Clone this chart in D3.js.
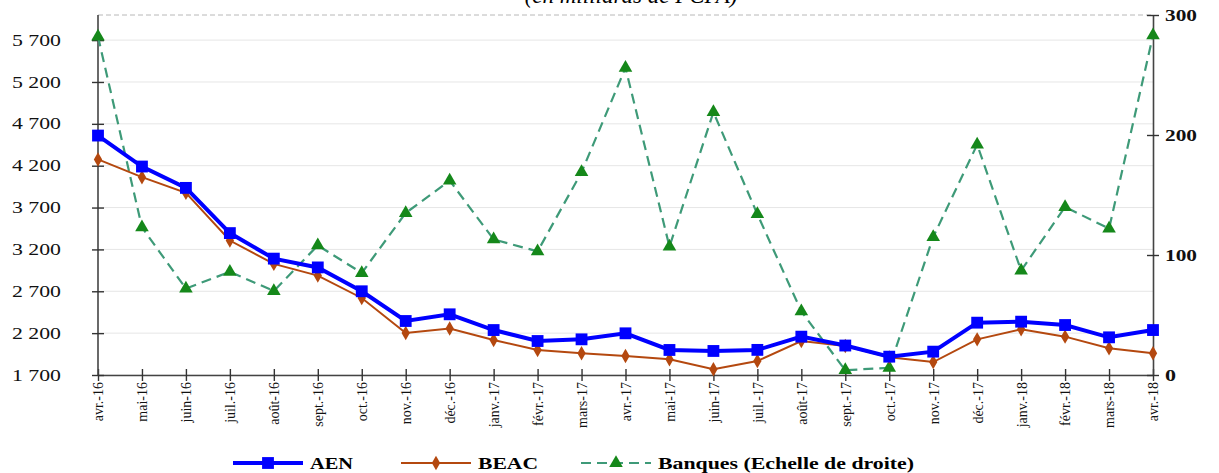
<!DOCTYPE html>
<html>
<head>
<meta charset="utf-8">
<script src="https://cdn.jsdelivr.net/npm/d3@7"></script>
<style>
  body { margin: 0; background: #fff; }
  svg { display: block; }
  .tick text { font-family: "Liberation Serif", serif; }
</style>
</head>
<body>
<div id="container"></div>
<script>
// DATA
const months = ["avr.-16", "mai-16", "juin-16", "juil.-16", "août-16", "sept.-16", "oct.-16", "nov.-16", "déc.-16",
  "janv.-17", "févr.-17", "mars-17", "avr.-17", "mai-17", "juin-17", "juil.-17", "août-17", "sept.-17", "oct.-17",
  "nov.-17", "déc.-17", "janv.-18", "févr.-18", "mars-18", "avr.-18"];
const aen = [4560, 4190, 3935, 3395, 3090, 2985, 2700, 2345, 2425, 2237, 2106, 2126, 2198, 1999, 1987, 2000, 2158, 2052, 1919, 1979, 2325, 2337, 2297, 2150, 2237];
const beac = [4275, 4063, 3875, 3306, 3027, 2887, 2620, 2202, 2255, 2118, 1999, 1959, 1927, 1887, 1768, 1867, 2106, 2046, 1911, 1855, 2126, 2246, 2158, 2019, 1959];
const banques = [282, 123, 72, 86, 70, 108, 85, 135, 162, 113, 103, 169, 256, 107, 219, 134, 53, 4, 6, 115, 192, 87, 140, 122, 283];
const leftTicks = [1700, 2200, 2700, 3200, 3700, 4200, 4700, 5200, 5700];
const rightTicks = [0, 100, 200, 300];

const width = 1219, height = 473;
const margin = { top: 15, bottom: 98, left: 98, right: 66 };

const svg = d3.select("#container").append("svg")
  .attr("width", width)
  .attr("height", height);

// SCALES
const xScale = d3.scalePoint()
  .domain(months)
  .range([margin.left, width - margin.right]);

const yLeft = d3.scaleLinear()
  .domain([1700, 6000])
  .range([height - margin.bottom, margin.top]);

const yRight = d3.scaleLinear()
  .domain([0, 300])
  .range([height - margin.bottom, margin.top]);

const fr = d3.formatLocale({ decimal: ",", thousands: " ", grouping: [3], currency: ["", " €"] });
const fmt = fr.format(",d");

// title (cut at the top like the original)
svg.append("text")
  .attr("x", 631)
  .attr("y", 3)
  .attr("text-anchor", "middle")
  .style("font-family", "Liberation Serif, serif")
  .style("font-style", "italic")
  .style("font-size", "23px")
  .text("(en milliards de FCFA)");

// gridlines
svg.append("g")
  .selectAll("line")
  .data(leftTicks)
  .join("line")
  .attr("x1", margin.left)
  .attr("x2", width - margin.right)
  .attr("y1", d => yLeft(d))
  .attr("y2", d => yLeft(d))
  .attr("stroke", "#e6e6e6")
  .attr("stroke-width", 1);

svg.append("line")
  .attr("x1", margin.left)
  .attr("x2", width - margin.right)
  .attr("y1", margin.top)
  .attr("y2", margin.top)
  .attr("stroke", "#b8b8b8")
  .attr("stroke-dasharray", "5,3");

// AXES
const xAxis = d3.axisBottom(xScale).tickSizeInner(6).tickSizeOuter(0).tickPadding(6);
const gx = svg.append("g")
  .attr("transform", `translate(0,${height - margin.bottom})`)
  .call(xAxis);
gx.selectAll(".tick line").attr("y1", -6);
gx.selectAll(".tick text")
  .attr("transform", "rotate(-90)")
  .attr("text-anchor", "end")
  .attr("x", -7)
  .attr("y", 0)
  .attr("dy", "0.35em")
  .style("font-size", "14px");

const yAxisL = d3.axisLeft(yLeft).tickValues(leftTicks).tickFormat(fmt).tickSizeInner(6).tickSizeOuter(0);
const gl = svg.append("g")
  .attr("transform", `translate(${margin.left},0)`)
  .call(yAxisL);
gl.selectAll(".tick line").attr("x2", 6).attr("x1", -6);
gl.selectAll(".tick text")
  .attr("x", -86)
  .attr("text-anchor", "start")
  .attr("textLength", 49)
  .attr("lengthAdjust", "spacingAndGlyphs")
  .style("font-size", "16px");
gl.select(".domain").attr("d", `M0,${yLeft(1700)}V${margin.top}`);

const yAxisR = d3.axisRight(yRight).tickValues(rightTicks).tickSizeInner(6).tickSizeOuter(0);
const gr = svg.append("g")
  .attr("transform", `translate(${width - margin.right},0)`)
  .call(yAxisR);
gr.selectAll(".tick line").attr("x1", -6);
gr.selectAll(".tick text")
  .attr("x", 12)
  .attr("textLength", d => d === 0 ? 11 : 32)
  .attr("lengthAdjust", "spacingAndGlyphs")
  .style("font-size", "16px")
  .style("font-weight", "bold");

[gx, gl, gr].forEach(g => {
  g.selectAll(".domain").attr("stroke", "#444").attr("stroke-width", 1.6);
  g.selectAll(".tick line").attr("stroke", "#333").attr("stroke-width", 1.4);
  g.selectAll(".tick text").attr("fill", "#111");
});

// LINES
const lineL = d3.line().x((d, i) => xScale(months[i])).y(d => yLeft(d));
const lineR = d3.line().x((d, i) => xScale(months[i])).y(d => yRight(d));

const greenLine = "#3e9a78", greenMark = "#15881a", blue = "#0000ff", brown = "#b4480f";

svg.append("path")
  .datum(banques)
  .attr("d", lineR)
  .attr("fill", "none")
  .attr("stroke", greenLine)
  .attr("stroke-width", 2.2)
  .attr("stroke-dasharray", "10,6");

svg.append("path")
  .datum(beac)
  .attr("d", lineL)
  .attr("fill", "none")
  .attr("stroke", brown)
  .attr("stroke-width", 2);

svg.append("path")
  .datum(aen)
  .attr("d", lineL)
  .attr("fill", "none")
  .attr("stroke", blue)
  .attr("stroke-width", 4);

const sq = d3.symbol().type(d3.symbolSquare).size(140);
const dia = d3.symbol().type(d3.symbolDiamond).size(60);
const tri = d3.symbol().type(d3.symbolTriangle).size(80);

svg.append("g").selectAll("path")
  .data(banques)
  .join("path")
  .attr("d", tri)
  .attr("transform", (d, i) => `translate(${xScale(months[i])},${yRight(d)})`)
  .attr("fill", greenMark);

svg.append("g").selectAll("path")
  .data(beac)
  .join("path")
  .attr("d", dia)
  .attr("transform", (d, i) => `translate(${xScale(months[i])},${yLeft(d)})`)
  .attr("fill", brown);

svg.append("g").selectAll("path")
  .data(aen)
  .join("path")
  .attr("d", sq)
  .attr("transform", (d, i) => `translate(${xScale(months[i])},${yLeft(d)})`)
  .attr("fill", blue);

// LEGEND
const legend = [
  { name: "AEN", x: 233, tw: 43, color: blue, w: 4, dash: null, sym: sq },
  { name: "BEAC", x: 401, tw: 60, color: brown, w: 2, dash: null, sym: dia },
  { name: "Banques (Echelle de droite)", x: 581, tw: 256, color: greenLine, w: 2.2, dash: "10,6", sym: tri, mark: greenMark }
];
const ly = 463;
const lg = svg.append("g").selectAll("g").data(legend).join("g");
lg.append("line")
  .attr("x1", d => d.x).attr("x2", d => d.x + 70)
  .attr("y1", ly).attr("y2", ly)
  .attr("stroke", d => d.color)
  .attr("stroke-width", d => d.w)
  .attr("stroke-dasharray", d => d.dash);
lg.append("path")
  .attr("d", d => d.sym())
  .attr("transform", d => `translate(${d.x + 35},${ly})`)
  .attr("fill", d => d.mark || d.color);
lg.append("text")
  .attr("x", d => d.x + 77)
  .attr("y", ly)
  .attr("dy", "0.35em")
  .attr("textLength", d => d.tw)
  .attr("lengthAdjust", "spacingAndGlyphs")
  .style("font-family", "Liberation Serif, serif")
  .style("font-weight", "bold")
  .style("font-size", "16px")
  .text(d => d.name);
</script>
</body>
</html>
